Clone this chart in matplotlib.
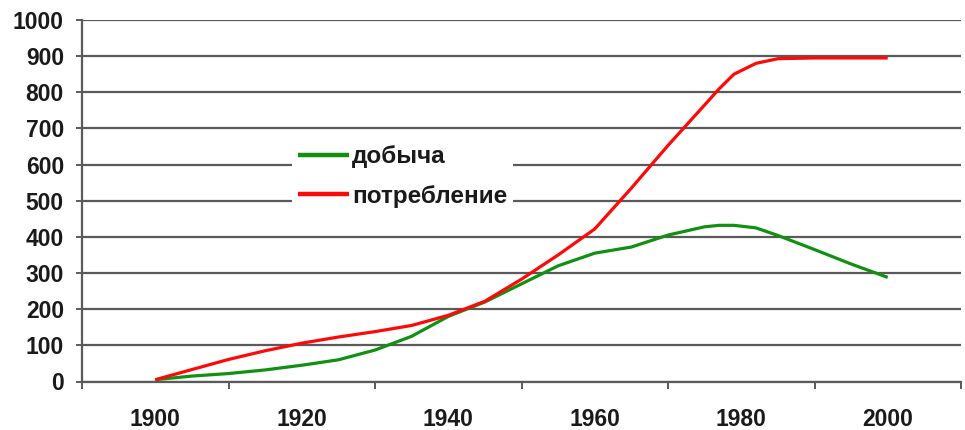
import matplotlib
matplotlib.use("Agg")
import matplotlib.pyplot as plt
from matplotlib.ticker import FixedLocator, NullFormatter

plt.rcParams['font.family'] = ['Liberation Sans', 'DejaVu Sans']
plt.rcParams['font.weight'] = 'bold'

# Production and consumption over the century
years = [1900, 1905, 1910, 1915, 1920, 1925, 1930, 1935, 1940, 1945, 1950,
         1955, 1960, 1965, 1970, 1975, 1977, 1979, 1982, 1985, 1990, 1995, 2000]
production = [5, 15, 22, 32, 45, 60, 87, 125, 180, 220, 270,
              320, 355, 372, 405, 428, 432, 432, 425, 404, 365, 325, 288]
consumption = [5, 33, 61, 85, 106, 123, 138, 155, 183, 222, 283,
               350, 422, 535, 653, 765, 810, 850, 880, 893, 895, 895, 895]

label_production = "добыча"
label_consumption = "потребление"

year_labels = [1900, 1920, 1940, 1960, 1980, 2000]
year_ticks = [1890, 1910, 1930, 1950, 1970, 1990, 2010]
value_ticks = list(range(0, 1001, 100))

W, H = 965, 430
fig = plt.figure(figsize=(W / 100, H / 100), dpi=100)
ax = fig.add_axes([82 / W, (H - 381.5) / H, (961 - 82) / W, (381.5 - 20) / H])

grid_color = "#5a5a5a"
text_color = "#1a1a1a"
ax.set_xlim(1890, 2010)
ax.set_ylim(0, 1000)

for v in value_ticks:
    ax.axhline(v, color=grid_color, lw=1.6, zorder=1)

ax.plot(years, production, color="#119011", lw=2.3, label=label_production, zorder=3,
        solid_capstyle="butt")
ax.plot(years, consumption, color="#ff0808", lw=2.3, label=label_consumption, zorder=4,
        solid_capstyle="butt")

for s in ["top", "right"]:
    ax.spines[s].set_visible(False)
for s in ["left", "bottom"]:
    ax.spines[s].set_color(grid_color)
    ax.spines[s].set_linewidth(1.6)

ax.set_yticks(value_ticks)
ax.tick_params(axis="y", length=4, width=1.4, color=grid_color, pad=9,
               labelsize=16.5, labelcolor=text_color)

# Category-style x axis: ticks between categories, labels centred
ax.xaxis.set_major_locator(FixedLocator(year_ticks))
ax.xaxis.set_major_formatter(NullFormatter())
ax.xaxis.set_minor_locator(FixedLocator(year_labels))
ax.set_xticklabels([str(y) for y in year_labels], minor=True)
ax.tick_params(axis="x", which="major", length=5, width=1.4, color=grid_color)
ax.tick_params(axis="x", which="minor", length=0, pad=19,
               labelsize=16.5, labelcolor=text_color)

leg = ax.legend(loc="center left",
                bbox_to_anchor=((292 - 82) / (961 - 82), (381.5 - 176.5) / 361.5),
                frameon=True, fancybox=False, framealpha=1, edgecolor="none",
                facecolor="white", fontsize=17.5, handlelength=2.1, handletextpad=0.12,
                labelspacing=0.68, borderpad=0.25, borderaxespad=0)
for t in leg.get_texts():
    t.set_color(text_color)
for h in leg.get_lines():
    h.set_linewidth(3.2)
leg.set_zorder(5)

fig.savefig("out.png", dpi=100)
